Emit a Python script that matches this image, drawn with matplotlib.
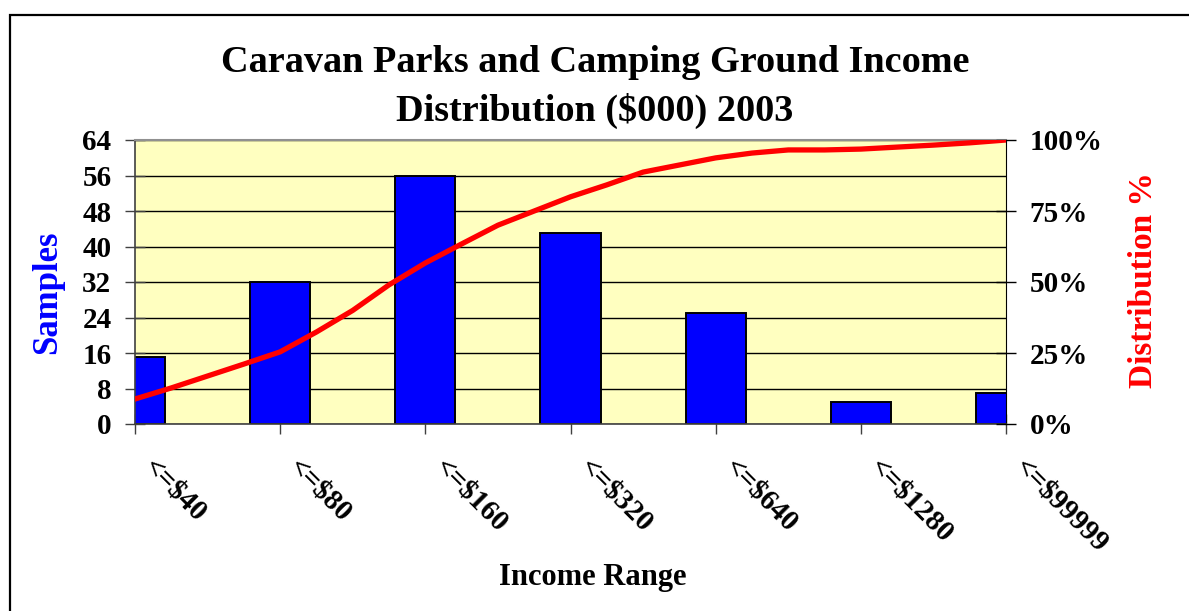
import numpy as np
import matplotlib
matplotlib.use("Agg")
import matplotlib.pyplot as plt
from matplotlib.patches import Rectangle
from matplotlib.ticker import FuncFormatter

# ---- data ----
categories = ["<=$40", "<=$80", "<=$160", "<=$320", "<=$640", "<=$1280", "<=$99999"]
samples = [15, 32, 56, 43, 25, 5, 7]
# cumulative distribution read at quarter-category steps
cum_pct = [0.088, 0.127, 0.169, 0.211, 0.254, 0.324, 0.400, 0.490, 0.567,
           0.634, 0.700, 0.750, 0.800, 0.842, 0.887, 0.912, 0.937,
           0.954, 0.965, 0.965, 0.968, 0.975, 0.982, 0.990, 1.000]
left_ticks = [0, 8, 16, 24, 32, 40, 48, 56, 64]
right_ticks = [0, 0.25, 0.5, 0.75, 1.0]

W, H = 1189, 611
fig = plt.figure(figsize=(W / 100, H / 100), dpi=100)
serif = ["Liberation Serif", "DejaVu Serif"]
plt.rcParams["font.family"] = serif

# outer chart frame
fig.patches.append(Rectangle((10 / W, -0.1), 1.2, 1.1 - 15 / H, transform=fig.transFigure,
                             fill=False, edgecolor="black", linewidth=1.6, zorder=0))

L, R, T, B = 135, 1006, 140, 424
ax = fig.add_axes([L / W, 1 - B / H, (R - L) / W, (B - T) / H])
ax.set_facecolor("#FFFFC0")
x = np.arange(len(categories))
ax.bar(x, samples, width=0.414, color="#0000FF", edgecolor="black", linewidth=1.4, zorder=2)
ax.set_xlim(0, len(categories) - 1)
ax.set_ylim(0, 64)
ax.set_yticks(left_ticks)
ax.yaxis.grid(True, color="black", linewidth=1.0)
ax.set_axisbelow(True)
ax.set_xticks(x)
ax.set_xticklabels([])
ax.tick_params(axis="both", direction="inout", length=14, width=1.0, color="#404040",
               labelsize=21)
ax.tick_params(axis="y", pad=10)
for lab in ax.get_yticklabels():
    lab.set_fontweight("bold")

ax.spines["top"].set_color("#909090")
ax.spines["top"].set_linewidth(1.5)
for s in ["left", "bottom"]:
    ax.spines[s].set_color("#404040")
    ax.spines[s].set_linewidth(1.2)
ax.spines["right"].set_color("black")

# x tick labels rotated
for xi, c in zip(x, categories):
    ax.annotate(c, xy=(xi, 0), xycoords=("data", "axes fraction"),
                xytext=(9, -28), textcoords="offset points",
                rotation=-45, rotation_mode="anchor", ha="left", va="center",
                fontsize=21, fontweight="bold", annotation_clip=False)

ax2 = ax.twinx()
line_x = np.linspace(0, len(categories) - 1, len(cum_pct))
ax2.plot(line_x, cum_pct, color="#FF0000", linewidth=3.8, solid_joinstyle="round", zorder=3)
ax2.set_ylim(0, 1)
ax2.set_yticks(right_ticks)
ax2.yaxis.set_major_formatter(FuncFormatter(lambda v, p: f"{int(round(v * 100))}%"))
ax2.tick_params(axis="y", direction="inout", length=14, width=1.0, color="black",
                labelsize=21, pad=10)
for lab in ax2.get_yticklabels():
    lab.set_fontweight("bold")
for s in ax2.spines.values():
    s.set_visible(False)

fig.text(48 / W, 1 - 292 / H, "Samples", color="#0000FF", fontsize=25,
         fontweight="bold", rotation=90, ha="center", va="center")
fig.text(1143 / W, 1 - 280 / H, "Distribution %", color="#FF0000", fontsize=24,
         fontweight="bold", rotation=90, ha="center", va="center")

fig.text(595 / W, 1 - 63 / H, "Caravan Parks and Camping Ground Income",
         ha="center", va="center", fontsize=27.5, fontweight="bold")
fig.text(595 / W, 1 - 111 / H, "Distribution ($000) 2003",
         ha="center", va="center", fontsize=27.5, fontweight="bold")
fig.text(593 / W, 1 - 577 / H, "Income Range", ha="center", va="center",
         fontsize=22, fontweight="bold")

fig.savefig("out.png", dpi=100)
